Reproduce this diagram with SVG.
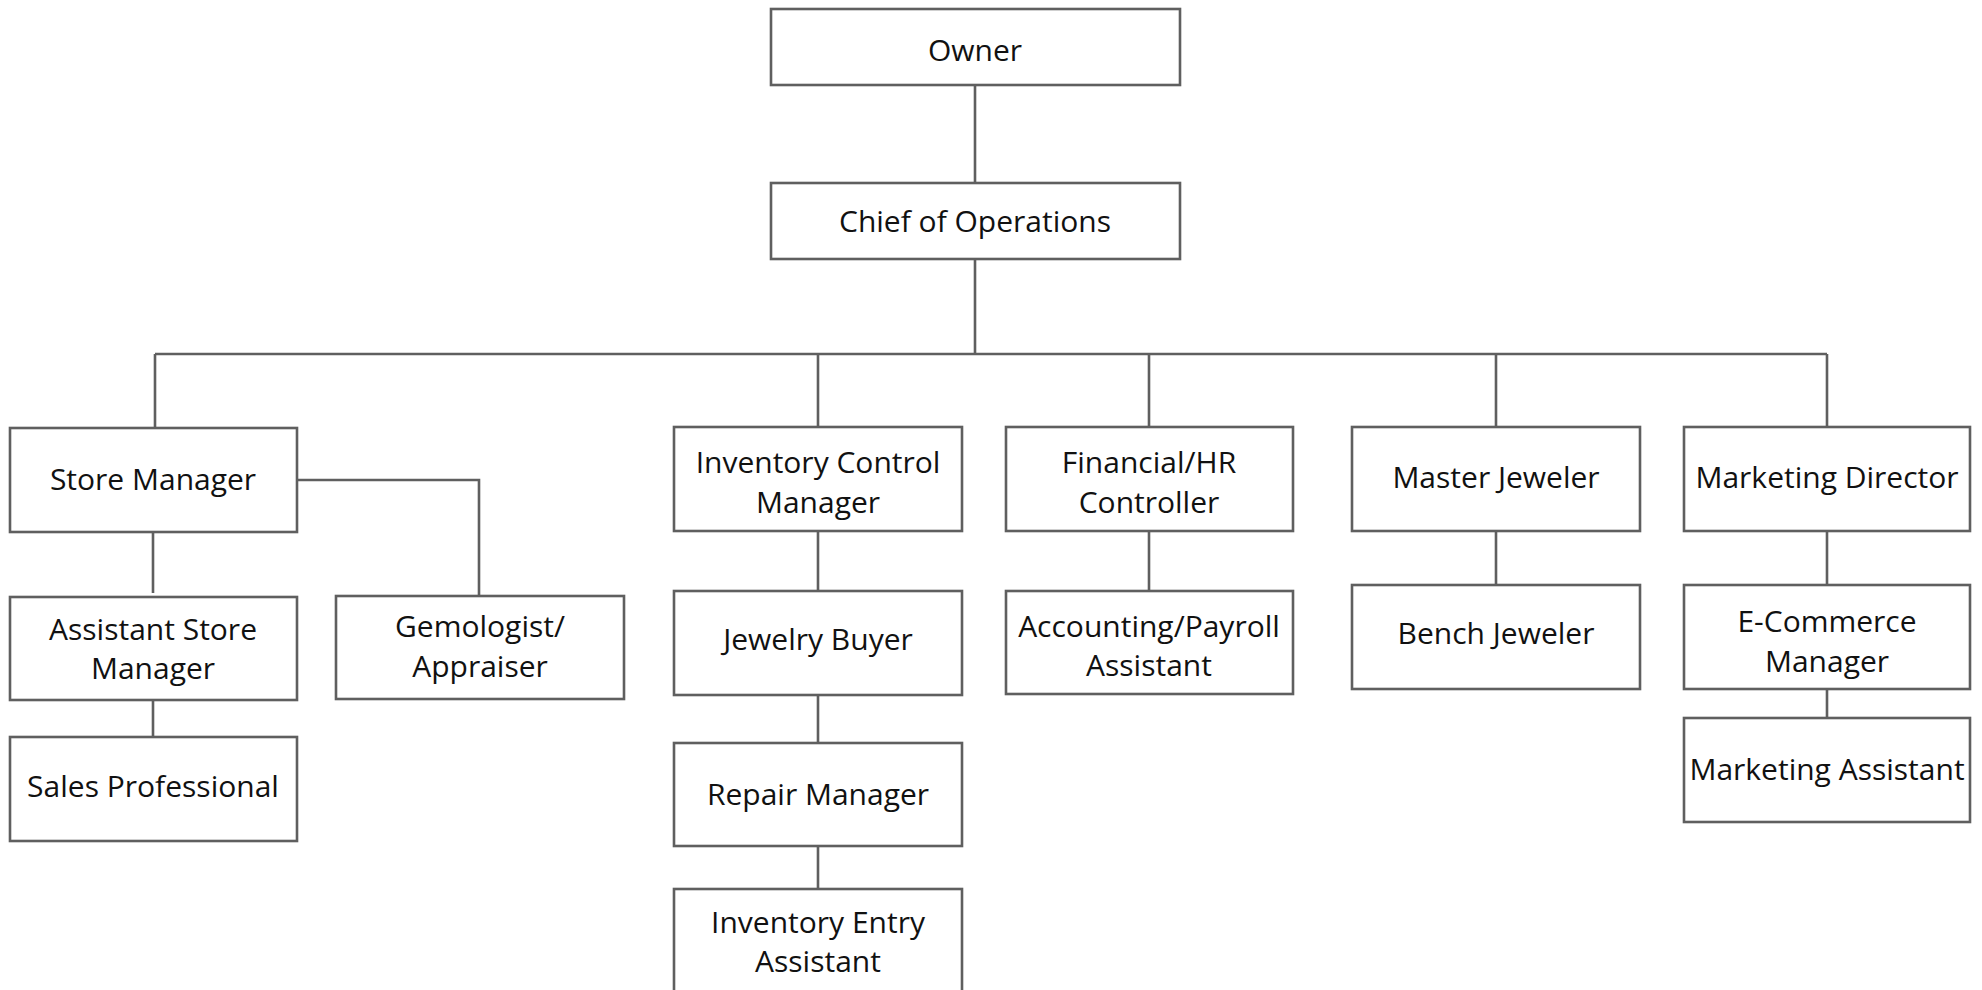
<svg xmlns="http://www.w3.org/2000/svg" width="1982" height="990" viewBox="0 0 1982 990">
<style>
.box{fill:#fff;stroke:#5f5f5f;stroke-width:2.6}
.ln{fill:none;stroke:#5f5f5f;stroke-width:2.6}
text{font-family:"Open Sans","Liberation Sans",sans-serif;font-size:30px;fill:#111;text-anchor:middle;font-variant-ligatures:none}
</style>
<rect width="1982" height="990" fill="#fff"/>
<g id="connectors">
<path class="ln" d="M975,85V183"/>
<path class="ln" d="M975,259V354"/>
<path class="ln" d="M155,354H1827"/>
<path class="ln" d="M155,354V427M818,354V427M1149,354V427M1496,354V427M1827,354V427"/>
<path class="ln" d="M296,480H479V595"/>
<path class="ln" d="M153,531V593M153,700V739"/>
<path class="ln" d="M818,531V590M818,694V743M818,846V889"/>
<path class="ln" d="M1149,531V593"/>
<path class="ln" d="M1496,531V585"/>
<path class="ln" d="M1827,531V585M1827,685V718"/>
</g>
<g id="owner"><rect class="box" x="771" y="9" width="409" height="76"/><text x="975" y="61">Owner</text></g>
<g id="chief"><rect class="box" x="771" y="183" width="409" height="76"/><text x="975" y="232">Chief of Operations</text></g>
<g id="store-manager"><rect class="box" x="10" y="428" width="287" height="104"/><text x="153" y="490">Store Manager</text></g>
<g id="assistant-store-manager"><rect class="box" x="10" y="597" width="287" height="103"/><text x="153" y="640">Assistant Store</text><text x="153" y="679">Manager</text></g>
<g id="sales-professional"><rect class="box" x="10" y="737" width="287" height="104"/><text x="153" y="797">Sales Professional</text></g>
<g id="gemologist"><rect class="box" x="336" y="596" width="288" height="103"/><text x="480" y="637">Gemologist/</text><text x="480" y="677">Appraiser</text></g>
<g id="inventory-control-manager"><rect class="box" x="674" y="427" width="288" height="104"/><text x="818" y="473">Inventory Control</text><text x="818" y="513">Manager</text></g>
<g id="jewelry-buyer"><rect class="box" x="674" y="591" width="288" height="104"/><text x="818" y="650">Jewelry Buyer</text></g>
<g id="repair-manager"><rect class="box" x="674" y="743" width="288" height="103"/><text x="818" y="805">Repair Manager</text></g>
<g id="inventory-entry-assistant"><rect class="box" x="674" y="889" width="288" height="106"/><text x="818" y="933">Inventory Entry</text><text x="818" y="972">Assistant</text></g>
<g id="financial-hr-controller"><rect class="box" x="1006" y="427" width="287" height="104"/><text x="1149" y="473">Financial/HR</text><text x="1149" y="513">Controller</text></g>
<g id="accounting-payroll-assistant"><rect class="box" x="1006" y="591" width="287" height="103"/><text x="1149" y="637">Accounting/Payroll</text><text x="1149" y="676">Assistant</text></g>
<g id="master-jeweler"><rect class="box" x="1352" y="427" width="288" height="104"/><text x="1496" y="488">Master Jeweler</text></g>
<g id="bench-jeweler"><rect class="box" x="1352" y="585" width="288" height="104"/><text x="1496" y="644">Bench Jeweler</text></g>
<g id="marketing-director"><rect class="box" x="1684" y="427" width="286" height="104"/><text x="1827" y="488">Marketing Director</text></g>
<g id="e-commerce-manager"><rect class="box" x="1684" y="585" width="286" height="104"/><text x="1827" y="632">E-Commerce</text><text x="1827" y="672">Manager</text></g>
<g id="marketing-assistant"><rect class="box" x="1684" y="718" width="286" height="104"/><text x="1827" y="780">Marketing Assistant</text></g>
</svg>
